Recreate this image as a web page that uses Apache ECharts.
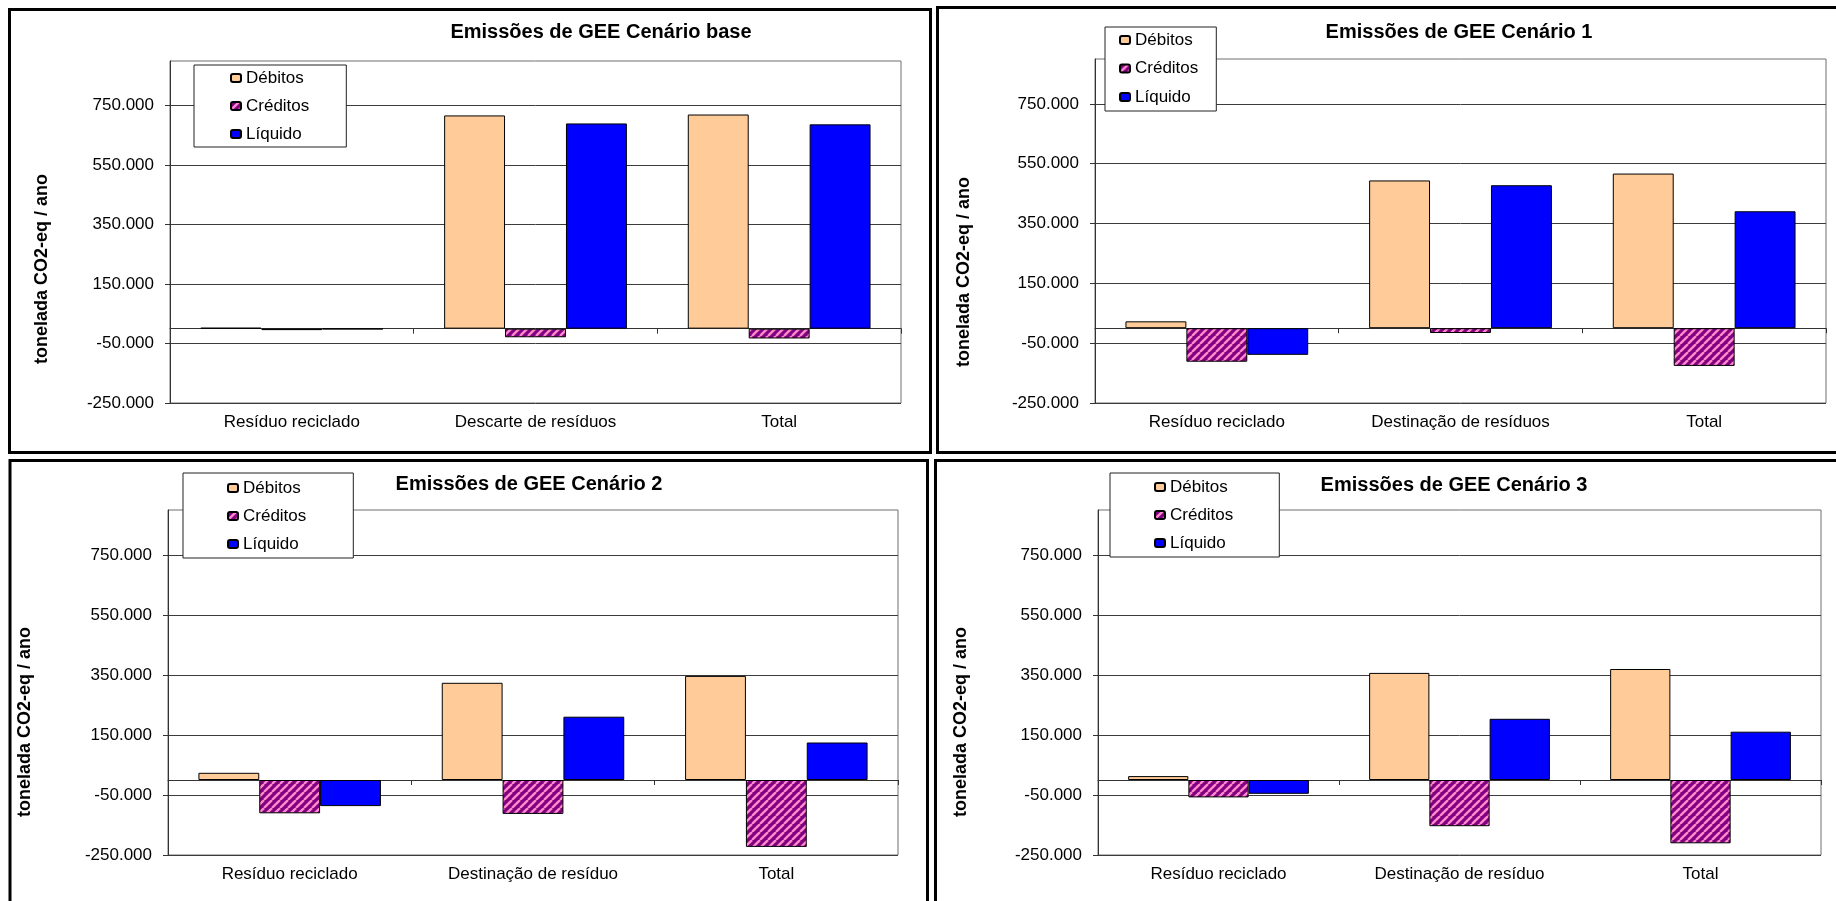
<!DOCTYPE html>
<html lang="pt">
<head>
<meta charset="utf-8">
<title>Emissões de GEE por cenário</title>
<script src="https://cdn.jsdelivr.net/npm/echarts@6.0.0/dist/echarts.min.js"></script>
<style>
  html, body { margin: 0; padding: 0; background: #fff; }
  #chart { width: 1836px; height: 901px; }
</style>
</head>
<body>
<div id="chart"></div>
<script>
// Categorias de cada gráfico
const categoriasBase = ['Resíduo reciclado', 'Descarte de resíduos', 'Total'];
const categoriasC1 = ['Resíduo reciclado', 'Destinação de resíduos', 'Total'];
const categoriasC2 = ['Resíduo reciclado', 'Destinação de resíduo', 'Total'];
const categoriasC3 = ['Resíduo reciclado', 'Destinação de resíduo', 'Total'];

// Emissões (tonelada CO2-eq / ano)
const debitosBase = [3000, 717000, 720000];
const creditosBase = [-5000, -29000, -33000];
const liquidoBase = [-2000, 690000, 687000];

const debitosC1 = [23000, 494000, 517000];
const creditosC1 = [-112000, -16000, -126000];
const liquidoC1 = [-89000, 478000, 391000];

const debitosC2 = [24000, 324000, 347000];
const creditosC2 = [-111000, -113000, -223000];
const liquidoC2 = [-87000, 211000, 125000];

const debitosC3 = [13000, 357000, 370000];
const creditosC3 = [-58000, -154000, -211000];
const liquidoC3 = [-46000, 204000, 161000];

// Textos e marcas do eixo de valores
const nomesSeries = ['Débitos', 'Créditos', 'Líquido'];
const titulos = [
  'Emissões de GEE Cenário base',
  'Emissões de GEE Cenário 1',
  'Emissões de GEE Cenário 2',
  'Emissões de GEE Cenário 3'
];
const tituloEixoY = 'tonelada CO2-eq / ano';
const marcasEixoY = [-250000, -50000, 150000, 350000, 550000, 750000];

const FONTE = '"Liberation Sans", Arial, Helvetica, sans-serif';

// Número com ponto como separador de milhar (ex.: 750.000)
function formatarMilhar(v) {
  const s = Math.abs(Math.round(v)).toString().replace(/\B(?=(\d{3})+(?!\d))/g, '.');
  return (v < 0 ? '-' : '') + s;
}

// Hachura diagonal rosa sobre roxo para os créditos
function criarHachura() {
  const w = 8;
  const c = document.createElement('canvas');
  c.width = w; c.height = w;
  const g = c.getContext('2d');
  g.fillStyle = '#800080';
  g.fillRect(0, 0, w, w);
  g.strokeStyle = '#ff88cc';
  g.lineWidth = 2.4;
  for (let k = -1; k <= 1; k++) {
    g.beginPath();
    g.moveTo(k * w, w);
    g.lineTo(k * w + w, 0);
    g.stroke();
  }
  return c;
}
const hachura = { image: criarHachura(), repeat: 'repeat' };

const coresSeries = ['#FFCC99', hachura, '#0000FF'];

// Disposição dos quatro painéis
const paineis = [
  { cats: categoriasBase, valores: [debitosBase, creditosBase, liquidoBase],
    grid: { left: 170, top: 61, width: 731, height: 342 },
    titulo: [601, 32], eixo: [42, 269],
    legenda: { left: 194, top: 65, padding: [3, 37, 3, 36], itemGap: 8 },
    moldura: { x: 9.5, y: 9.5, width: 921, height: 443 } },
  { cats: categoriasC1, valores: [debitosC1, creditosC1, liquidoC1],
    grid: { left: 1095, top: 59, width: 731, height: 344 },
    titulo: [1459, 32], eixo: [964, 272],
    legenda: { left: 1105, top: 27, padding: [3, 18, 4, 14], itemGap: 8.5 },
    moldura: { x: 937.5, y: 7.5, width: 1000, height: 445 } },
  { cats: categoriasC2, valores: [debitosC2, creditosC2, liquidoC2],
    grid: { left: 168, top: 510, width: 730, height: 345 },
    titulo: [529, 484], eixo: [25, 722],
    legenda: { left: 183, top: 473, padding: [5, 47, 4, 44], itemGap: 8 },
    moldura: { x: 10, y: 460.5, width: 917.5, height: 600 } },
  { cats: categoriasC3, valores: [debitosC3, creditosC3, liquidoC3],
    grid: { left: 1098, top: 510, width: 723, height: 345 },
    titulo: [1454, 485], eixo: [961, 722],
    legenda: { left: 1110, top: 473, padding: [4, 46, 4, 44], itemGap: 8 },
    moldura: { x: 935.5, y: 460.5, width: 1000, height: 600 } }
];

const grids = [], xAxes = [], yAxes = [], series = [], legends = [], graficos = [];

paineis.forEach((p, i) => {
  grids.push(Object.assign({
    show: true, backgroundColor: '#fff', borderColor: '#6e6e6e', borderWidth: 1,
    containLabel: false
  }, p.grid));

  // Eixo de categorias com os rótulos, na base do gráfico
  xAxes.push({
    type: 'category', gridIndex: i, data: p.cats, position: 'bottom',
    axisLine: { show: false, onZero: false },
    axisTick: { show: false },
    axisLabel: { margin: 11, color: '#000', fontSize: 17, fontFamily: FONTE, interval: 0 },
    splitLine: { show: false }
  });
  // Linha do zero com as marcas entre categorias
  xAxes.push({
    type: 'category', gridIndex: i, data: p.cats, position: 'bottom',
    axisLine: { show: true, onZero: true, lineStyle: { color: '#333', width: 1 } },
    axisTick: { show: true, length: 5, lineStyle: { color: '#333', width: 1 } },
    axisLabel: { show: false },
    splitLine: { show: false }
  });

  yAxes.push({
    type: 'value', gridIndex: i, min: -250000, max: 900000, interval: 200000,
    axisLine: { show: true, lineStyle: { color: '#333', width: 1 } },
    axisTick: { show: true, length: 5, lineStyle: { color: '#333', width: 1 }, customValues: marcasEixoY },
    axisLabel: { margin: 16, color: '#000', fontSize: 17, fontFamily: FONTE,
                 formatter: formatarMilhar, customValues: marcasEixoY },
    splitLine: { show: true, lineStyle: { color: '#3c3c3c', width: 1 } }
  });

  nomesSeries.forEach((nome, k) => {
    series.push({
      name: nome, type: 'bar',
      xAxisIndex: i * 2, yAxisIndex: i,
      data: p.valores[k],
      barGap: '0%', barCategoryGap: '25%',
      itemStyle: { color: coresSeries[k], borderColor: '#000', borderWidth: 1 },
      emphasis: { disabled: true },
      animation: false
    });
  });

  legends.push({
    data: nomesSeries, orient: 'vertical',
    left: p.legenda.left, top: p.legenda.top, padding: p.legenda.padding,
    itemGap: p.legenda.itemGap, itemWidth: 10, itemHeight: 8,
    backgroundColor: '#fff', borderColor: '#222', borderWidth: 1,
    selectedMode: false,
    textStyle: { color: '#000', fontSize: 17, lineHeight: 20, fontFamily: FONTE }
  });

  graficos.push({
    type: 'rect', silent: true, z: 50,
    shape: p.moldura,
    style: { fill: 'none', stroke: '#000', lineWidth: 3 }
  });
  graficos.push({
    type: 'text', silent: true, x: p.titulo[0], y: p.titulo[1],
    style: { text: titulos[i], fill: '#000', font: 'bold 20px ' + FONTE,
             align: 'center', verticalAlign: 'middle' }
  });
  graficos.push({
    type: 'text', silent: true, x: p.eixo[0], y: p.eixo[1], rotation: Math.PI / 2,
    style: { text: tituloEixoY, fill: '#000', font: 'bold 18px ' + FONTE,
             align: 'center', verticalAlign: 'middle' }
  });
});

const chart = echarts.init(document.getElementById('chart'), null, { renderer: 'canvas' });
chart.setOption({
  backgroundColor: '#fff',
  animation: false,
  grid: grids,
  xAxis: xAxes,
  yAxis: yAxes,
  legend: legends,
  series: series,
  graphic: graficos
});
</script>
</body>
</html>
